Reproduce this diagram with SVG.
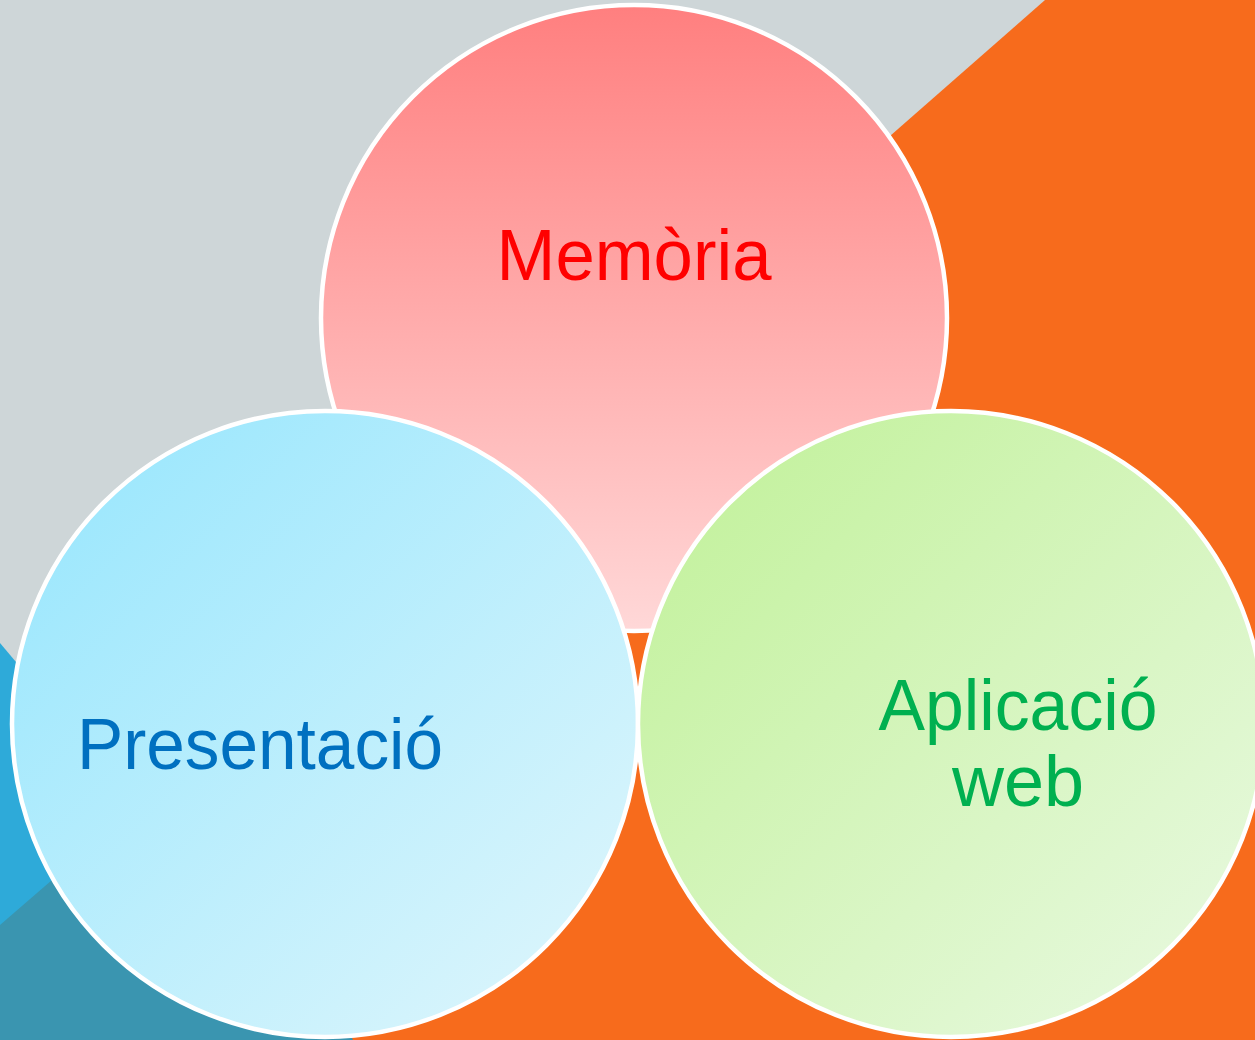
<svg xmlns="http://www.w3.org/2000/svg" width="1255" height="1040" viewBox="0 0 1255 1040">
<defs>
<linearGradient id="gPink" x1="0" y1="0" x2="0" y2="1"><stop offset="0" stop-color="#FF7F7F"/><stop offset="1" stop-color="#FFD8D8"/></linearGradient>
<linearGradient id="gBlue" x1="0.15" y1="0.15" x2="0.85" y2="0.85"><stop offset="0" stop-color="#A0E8FD"/><stop offset="1" stop-color="#D6F4FC"/></linearGradient>
<linearGradient id="gGreen" x1="0.15" y1="0.15" x2="0.85" y2="0.85"><stop offset="0" stop-color="#C6F2A2"/><stop offset="1" stop-color="#E4F8D8"/></linearGradient>
<style>
.c{stroke:#FFFFFF;stroke-width:4.5}
.t{font-family:"Liberation Sans","Arial",sans-serif;font-size:72px;text-anchor:middle}
</style>
</defs>
<rect x="0" y="0" width="1255" height="1040" fill="#CED6D8"/>
<polygon points="1045,0 1255,0 1255,1040 -141,1040" fill="#F76B1C"/>
<polygon points="0,643 334,1040 0,1040" fill="#2EAAD9"/>
<polygon points="0,925 200,752 353,1040 0,1040" fill="#3A95B0"/>
<g id="memoria">
<circle class="c" cx="634" cy="318" r="313" fill="url(#gPink)"/>
<text class="t" x="634" y="280" fill="#FF0000" textLength="275" lengthAdjust="spacingAndGlyphs">Memòria</text>
</g>
<g id="presentacio">
<circle class="c" cx="325" cy="724" r="313" fill="url(#gBlue)"/>
<text class="t" x="260" y="769" fill="#0070C0" textLength="366" lengthAdjust="spacingAndGlyphs">Presentació</text>
</g>
<g id="aplicacio">
<circle class="c" cx="951" cy="724" r="313" fill="url(#gGreen)"/>
<text class="t" x="1018" y="730" fill="#00B050" textLength="279" lengthAdjust="spacingAndGlyphs">Aplicació</text>
<text class="t" x="1018" y="806" fill="#00B050">web</text>
</g>
<g id="connectors"/>
</svg>
